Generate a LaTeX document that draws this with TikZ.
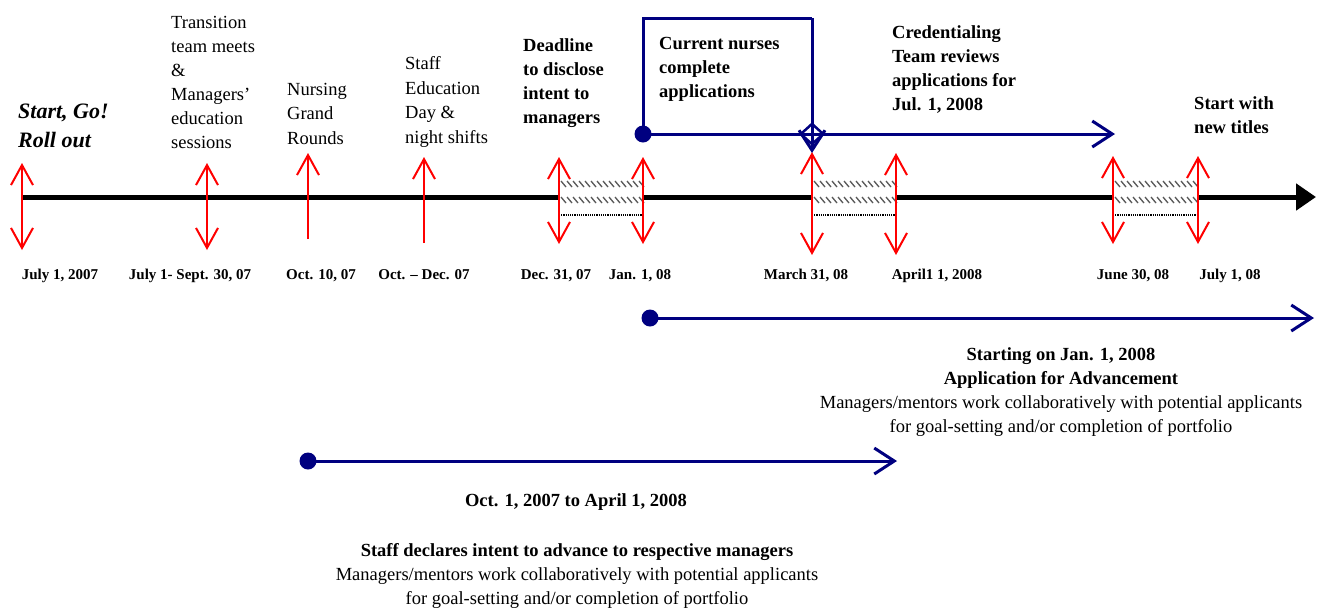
\documentclass[tikz,border=0pt]{standalone}
\usepackage{fontspec}
\setmainfont{Liberation Serif}
\usetikzlibrary{arrows.meta,positioning}

\definecolor{navy}{RGB}{0,0,128}

\tikzset{
  barb/.tip={Straight Barb[length=20pt,width=22pt]},
  uptick/.style={red, line width=2pt, -barb},
  dtick/.style={red, line width=2pt, barb-barb},
  span/.style={navy, line width=3pt, -{Straight Barb[length=20pt,width=26pt]}},
  dot/.style={circle, fill=navy, inner sep=0pt, minimum size=17pt},
  hatch/.style={black!65, line width=1.3pt},
  % anchored at the baseline of the last line
  event/.style={align=left, anchor=base west, inner sep=0pt,
    font=\fontsize{18.5}{24.5}\selectfont},
  bevent/.style={event, font=\fontsize{18.5}{24}\selectfont\bfseries},
  datelbl/.style={anchor=base, inner sep=0pt, font=\fontsize{15}{18}\selectfont\bfseries},
  note/.style={align=center, anchor=base, inner sep=0pt,
    font=\fontsize{18.5}{24}\selectfont},
}

\begin{document}
\begin{tikzpicture}[x=1pt,y=-1pt]
  \useasboundingbox (0,0) rectangle (1317,611);

  % main time line
  \coordinate (tstart) at (22,197);
  \coordinate (tend) at (1316,197);
  \draw[line width=5pt, -{Triangle[length=20pt,width=26pt]}] (tstart) -- (tend);

  % gaps on the time line
  \foreach \gx in {559,812,1113} {
    \fill[white] (\gx,178) rectangle ++(85,38);
    \foreach \k in {0,...,13} {
      \draw[hatch] ({\gx+2+6*\k},181) -- ++(5,6);
      \draw[hatch] ({\gx+2+6*\k},197) -- ++(5,6);
    }
    \draw[densely dotted, line width=1.2pt] (\gx,215) -- ++(85,0);
  }

  % red markers
  \foreach \mx/\top/\bot in {22/163/250, 207/163/250, 559/157/244, 643/157/244,
      812/152/255, 896/153/255, 1113/156/244, 1198/156/244} {
    \coordinate (mt) at (\mx,\top);
    \coordinate (mb) at (\mx,\bot);
    \draw[dtick] (mb) -- (mt);
  }
  \foreach \mx/\top/\bot in {308/153/239, 424/157/243} {
    \coordinate (mt) at (\mx,\top);
    \coordinate (mb) at (\mx,\bot);
    \draw[uptick] (mb) -- (mt);
  }

  % events above the line
  \node[event, font=\fontsize{22}{29}\selectfont\bfseries\itshape] (start) at (18,147)
    {Start, Go!\\Roll out};
  \node[event, font=\fontsize{18.5}{24}\selectfont] (trans) at (171,148)
    {Transition\\team meets\\\&\\Managers’\\education\\sessions};
  \node[event] (nurs) at (287,144) {Nursing\\Grand\\Rounds};
  \node[event] (staff) at (405,143) {Staff\\Education\\Day \&\\night shifts};
  \node[bevent] (dead) at (523,123) {Deadline\\to disclose\\intent to\\managers};
  \node[bevent] (cur) at (659,97) {Current nurses\\complete\\applications};
  \node[bevent] (cred) at (892,110) {Credentialing\\Team reviews\\applications for\\Jul. 1, 2008};
  \node[bevent] (newt) at (1194,133) {Start with\\new titles};

  % dates
  \node[datelbl] (d1) at (60,279) {July 1, 2007};
  \node[datelbl] (d2) at (190,279) {July 1- Sept. 30, 07};
  \node[datelbl] (d3) at (321,279) {Oct. 10, 07};
  \node[datelbl] (d4) at (424,279) {Oct. – Dec. 07};
  \node[datelbl] (d5) at (556,279) {Dec. 31, 07};
  \node[datelbl] (d6) at (640,279) {Jan. 1, 08};
  \node[datelbl] (d7) at (806,279) {March 31, 08};
  \node[datelbl] (d8) at (937,279) {April1 1, 2008};
  \node[datelbl] (d9) at (1133,279) {June 30, 08};
  \node[datelbl] (d10) at (1230,279) {July 1, 08};

  % current nurses box and credentialing span
  \coordinate (cnS) at (643,134);
  \coordinate (cnE) at (812,134);
  \coordinate (cnNE) at (812,18);
  \coordinate (cnTip) at (812,153);
  \coordinate (mkL) at (799,134);
  \coordinate (mkR) at (825,134);
  \coordinate (credEnd) at (1115,134);
  \draw[navy, line width=3pt] (cnS) |- (cnNE);
  \draw[span] (cnNE) -- (cnTip);
  \draw[span, -] (cnS) -- (cnE);
  \draw[span] (cnE) -- (credEnd);
  \draw[navy, line width=2.5pt, {Straight Barb[length=11pt,width=20pt]}-{Straight Barb[length=11pt,width=20pt]}]
    (mkL) -- (mkR);
  \node[dot] (cnDot) at (cnS) {};

  % application for advancement
  \node[dot] (advDot) at (650,318) {};
  \coordinate (advEnd) at (1314,318);
  \draw[span] (advDot.center) -- (advEnd);
  \node[note] (adv) at (1061,432)
    {\textbf{Starting on Jan. 1, 2008}\\\textbf{Application for Advancement}\\
     Managers/mentors work collaboratively with potential applicants\\
     for goal-setting and/or completion of portfolio};

  % declaring intent
  \node[dot] (decDot) at (308,461) {};
  \coordinate (decEnd) at (897,461);
  \draw[span] (decDot.center) -- (decEnd);
  \node[note, font=\fontsize{18.5}{24}\selectfont\bfseries] (decDate) at (576,506)
    {Oct. 1, 2007 to April 1, 2008};
  \node[note] (dec) at (577,604)
    {\textbf{Staff declares intent to advance to respective managers}\\
     Managers/mentors work collaboratively with potential applicants\\
     for goal-setting and/or completion of portfolio};
\end{tikzpicture}
\end{document}
